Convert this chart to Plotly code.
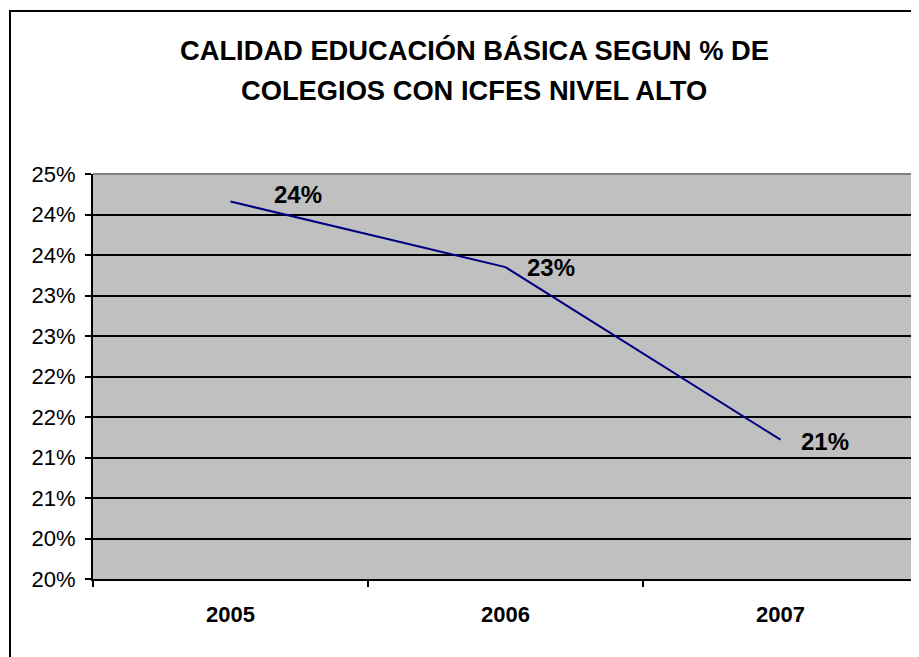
import plotly.graph_objects as go

years = ["2005", "2006", "2007"]
values = [24.66, 23.85, 21.72]
value_labels = ["24%", "23%", "21%"]
y_tick_vals = [20.0, 20.5, 21.0, 21.5, 22.0, 22.5, 23.0, 23.5, 24.0, 24.5, 25.0]
y_tick_text = ["20%", "20%", "21%", "21%", "22%", "22%", "23%", "23%", "24%", "24%", "25%"]
title_lines = ["CALIDAD EDUCACIÓN BÁSICA SEGUN % DE", "COLEGIOS CON ICFES NIVEL ALTO"]

# label offsets (px) relative to points
label_dx = [41, 19, 18]
label_dy = [7, 0, -2]

OFF = 8  # page body margin
W, H = 919 - OFF, 657 - OFF
L, R, T, B = 93 - OFF, 918 - OFF, 174 - OFF, 579 - OFF

fig = go.Figure()
fig.add_trace(go.Scatter(
    x=years, y=values, mode="lines",
    line=dict(color="#000080", width=2),
    hoverinfo="skip", showlegend=False,
))

FONT = "Liberation Sans, Arial, sans-serif"

for i, (y, t, dx, dy) in enumerate(zip(values, value_labels, label_dx, label_dy)):
    fig.add_annotation(xref="x", yref="y", x=i, y=y, text="<b>%s</b>" % t,
                       showarrow=False, xanchor="left", yanchor="middle",
                       xshift=dx, yshift=dy,
                       font=dict(family=FONT, size=24, color="black"))

def px_x(px):
    return (px - OFF - L) / (R - L)

def px_y(py):
    return (B - (py - OFF)) / (B - T)

for line, cy in zip(title_lines, [51, 91]):
    fig.add_annotation(xref="paper", yref="paper", x=px_x(474), y=px_y(cy),
                       text="<b>%s</b>" % line, showarrow=False,
                       xanchor="center", yanchor="middle",
                       font=dict(family=FONT, size=27.3, color="black"))

# outer chart frame
fig.add_shape(type="rect", xref="paper", yref="paper",
              x0=px_x(10), x1=px_x(940), y0=px_y(11), y1=px_y(700),
              line=dict(color="black", width=2), layer="above")
# plot-area top and right border (gray)
fig.add_shape(type="line", xref="paper", yref="paper", x0=0, x1=1, y0=1, y1=1,
              line=dict(color="#808080", width=2))
fig.add_shape(type="line", xref="paper", yref="paper", x0=1, x1=1, y0=0, y1=1,
              line=dict(color="#808080", width=2))

fig.update_layout(
    width=W, height=H,
    margin=dict(l=L, r=W - R, t=T, b=H - B),
    paper_bgcolor="white", plot_bgcolor="#C0C0C0",
    font=dict(family=FONT, color="black"),
    xaxis=dict(
        type="category", range=[-0.5, 2.5],
        showline=True, linecolor="black", linewidth=2,
        ticks="outside", ticklen=6, tickcolor="black", tickwidth=1.5,
        tickson="boundaries", showgrid=False,
        tickfont=dict(family=FONT, size=22, color="black"),
        ticklabelstandoff=15,
        tickvals=years, ticktext=["<b>%s</b>" % y for y in years],
    ),
    yaxis=dict(
        range=[20, 25],
        tickvals=y_tick_vals, ticktext=y_tick_text,
        showline=True, linecolor="black", linewidth=2,
        ticks="outside", ticklen=6, tickcolor="black", tickwidth=1.5,
        showgrid=True, gridcolor="black", gridwidth=1.5,
        zeroline=False,
        tickfont=dict(family=FONT, size=22, color="black"),
        ticklabelstandoff=5,
    ),
)

fig.write_html("out.html")
